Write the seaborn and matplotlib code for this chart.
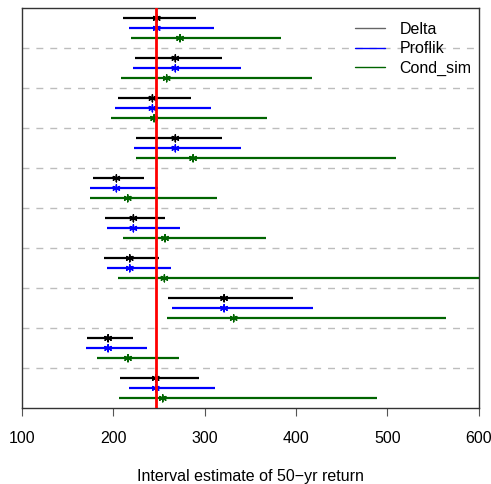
import numpy as np
import pandas as pd
import matplotlib
matplotlib.use("Agg")
import matplotlib.pyplot as plt
import seaborn as sns
from matplotlib.lines import Line2D

methods = ["Delta", "Proflik", "Cond_sim"]
colors = {"Delta": "black", "Proflik": "blue", "Cond_sim": "#006400"}

delta_low = [210.5, 224.0, 205.8, 224.7, 177.7, 191.5, 189.7, 260.1, 171.1, 208.0]
delta_high = [290.4, 319.5, 285.6, 319.2, 233.5, 256.5, 250.3, 396.9, 221.4, 293.7]
delta_est = [247.7, 268.1, 243.0, 268.1, 203.6, 222.2, 218.2, 321.4, 194.5, 246.6]

proflik_low = [217.8, 222.2, 202.5, 222.5, 175.1, 193.7, 193.7, 264.8, 170.4, 217.8]
proflik_high = [310.8, 339.6, 307.1, 339.6, 248.8, 273.2, 263.7, 419.1, 237.5, 311.2]
proflik_est = [247.7, 268.1, 243.0, 268.1, 203.6, 222.2, 218.2, 321.4, 194.5, 246.6]

cond_low = [219.3, 208.3, 197.7, 225.5, 174.8, 210.9, 205.8, 259.0, 182.1, 206.5]
cond_high = [383.7, 417.7, 368.8, 509.9, 313.3, 367.0, 640.0, 564.3, 272.5, 488.8]
cond_est = [273.2, 258.6, 244.8, 287.5, 216.0, 256.8, 256.1, 331.9, 216.3, 254.3]

true_value = 247.0
x_ticks = [100, 200, 300, 400, 500, 600]

sns.set_theme(style="white")
plt.rcParams["font.family"] = ["Liberation Sans", "DejaVu Sans"]
plt.rcParams["text.color"] = "black"
plt.rcParams["xtick.color"] = "black"
plt.rcParams["axes.labelcolor"] = "black"

rows = []
series = {
    "Delta": (delta_low, delta_high, delta_est),
    "Proflik": (proflik_low, proflik_high, proflik_est),
    "Cond_sim": (cond_low, cond_high, cond_est),
}
for k, m in enumerate(methods):
    lo, hi, es = series[m]
    for g in range(len(lo)):
        rows.append({"method": m, "pos": 4 * g + k + 1, "low": lo[g], "high": hi[g], "est": es[g]})
df = pd.DataFrame(rows)

fig = plt.figure(figsize=(4.91, 4.84), dpi=100)
ax = fig.add_axes([0.0442, 0.1564, 0.975 - 0.0442, 0.9829 - 0.1564])

# separators
n_groups = len(delta_low)
for g in range(1, n_groups):
    ax.axhline(4 * g, color="#bdbdbd", lw=1.0, ls=(0, (5, 5)), zorder=1)

for m in methods:
    sub = df[df.method == m]
    ax.hlines(sub["pos"], sub["low"], sub["high"], color=colors[m], lw=1.6, zorder=3, label=m)

sns.scatterplot(data=df, x="est", y="pos", hue="method", palette=colors, marker=(6, 2, 0),
                s=26, linewidth=1.0, legend=False, ax=ax, zorder=4)
ax.collections[-1].set_edgecolor([colors[m] for m in df["method"]])

ax.axvline(true_value, color="red", lw=2.0, zorder=5)

ax.set_xlim(100, 600)
ax.set_ylim(40, 0)
ax.set_yticks([])
ax.set_xticks(x_ticks)
ax.set_xticklabels([str(t) for t in x_ticks], fontsize=11.5)
ax.tick_params(axis="x", bottom=True, length=6, width=0.8, color="#555555", labelcolor="black", pad=10)
for s in ax.spines.values():
    s.set_color("#333333")
    s.set_linewidth(1.0)
ax.set_xlabel("Interval estimate of 50\u2212yr return", fontsize=11.5, labelpad=17, color="black")
ax.set_ylabel("")

handles = [Line2D([0], [0], color=colors[m], lw=1.0) for m in methods]
handles[0].set_color("#666666")
leg = ax.legend(handles, methods, loc="upper right", bbox_to_anchor=(0.998, 0.982), frameon=False,
                fontsize=11.5, handlelength=1.85, handletextpad=0.9, labelspacing=0.28, borderaxespad=0)
for t in leg.get_texts():
    t.set_color("black")

fig.savefig("out.png", dpi=100)
